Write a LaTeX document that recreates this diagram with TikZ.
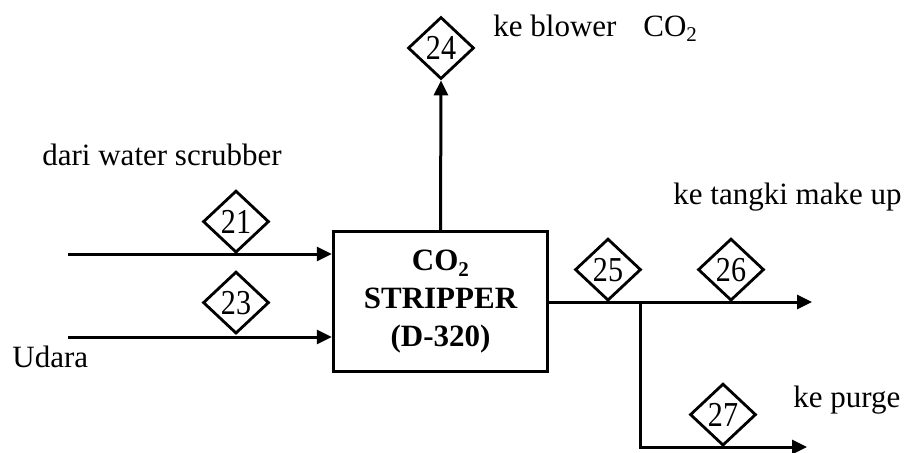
\documentclass[tikz,border=0pt]{standalone}
\usepackage{fontspec}
\usepackage{graphicx}
\setmainfont{Liberation Serif}
\usetikzlibrary{shapes.geometric, arrows.meta, positioning, calc}

\newcommand{\subtwo}{\raisebox{-0.4ex}{\fontsize{10.5}{12}\selectfont 2}}
\newcommand{\snum}[1]{\scalebox{0.86}[1]{#1}}

\begin{document}
\begin{tikzpicture}[
    x=0.5pt, y=-0.5pt,
    every node/.style={font=\fontsize{15.5}{19}\selectfont},
    unit/.style={rectangle, draw, line width=1.7pt, minimum width=107pt, minimum height=70pt, align=center, font=\fontsize{15.5}{19}\selectfont\bfseries},
    stream/.style={diamond, draw, line width=1.4pt, inner sep=0pt, minimum width=33pt, minimum height=31pt, fill=white, font=\fontsize{17.5}{20}\selectfont},
    label/.style={inner sep=0pt, anchor=base west},
    flow/.style={line width=1.5pt, -{Triangle[length=7.5pt, width=7pt]}}
]
\useasboundingbox (0,0) rectangle (912,452);

% Nodes
\node (stripper) [unit] at (440.5,301.5) {CO\subtwo\\STRIPPER\\(D-320)};
\node (s24) [stream] at (441,48) {\snum{24}};

\coordinate (in21) at (68,254);
\coordinate (in23) at (68,337);
\coordinate (branch) at (640,302);
\coordinate (out26) at (812,302);
\coordinate (out27) at (807,447);

% Labels
\node (lwater) [label] at (42,165) {dari water scrubber};
\node (ludara) [label] at (12,367) {Udara};
\node (lblower) [label] at (493,36) {ke blower};
\node (lco) [label] at (643,36) {CO\subtwo};
\node (ltangki) [label] at (673,204) {ke tangki make up};
\node (lpurge) [label] at (793,407) {ke purge};

% Arrows
\draw [flow] (in21) -- (in21 -| stripper.west);
\draw [flow] (in23) -- (in23 -| stripper.west);
\draw [flow] (stripper.north) -- (s24.south);
\draw [flow] (stripper.east |- branch) -- (out26);
\draw [flow] (branch) |- (out27);

% Stream numbers
\node (s21) [stream, anchor=south] at (236,254) {\snum{21}};
\node (s23) [stream, anchor=south] at (236,335) {\snum{23}};
\node (s25) [stream, anchor=south] at (608,302) {\snum{25}};
\node (s26) [stream, anchor=south] at (731,302) {\snum{26}};
\node (s27) [stream, anchor=south] at (723,447) {\snum{27}};

\end{tikzpicture}
\end{document}
